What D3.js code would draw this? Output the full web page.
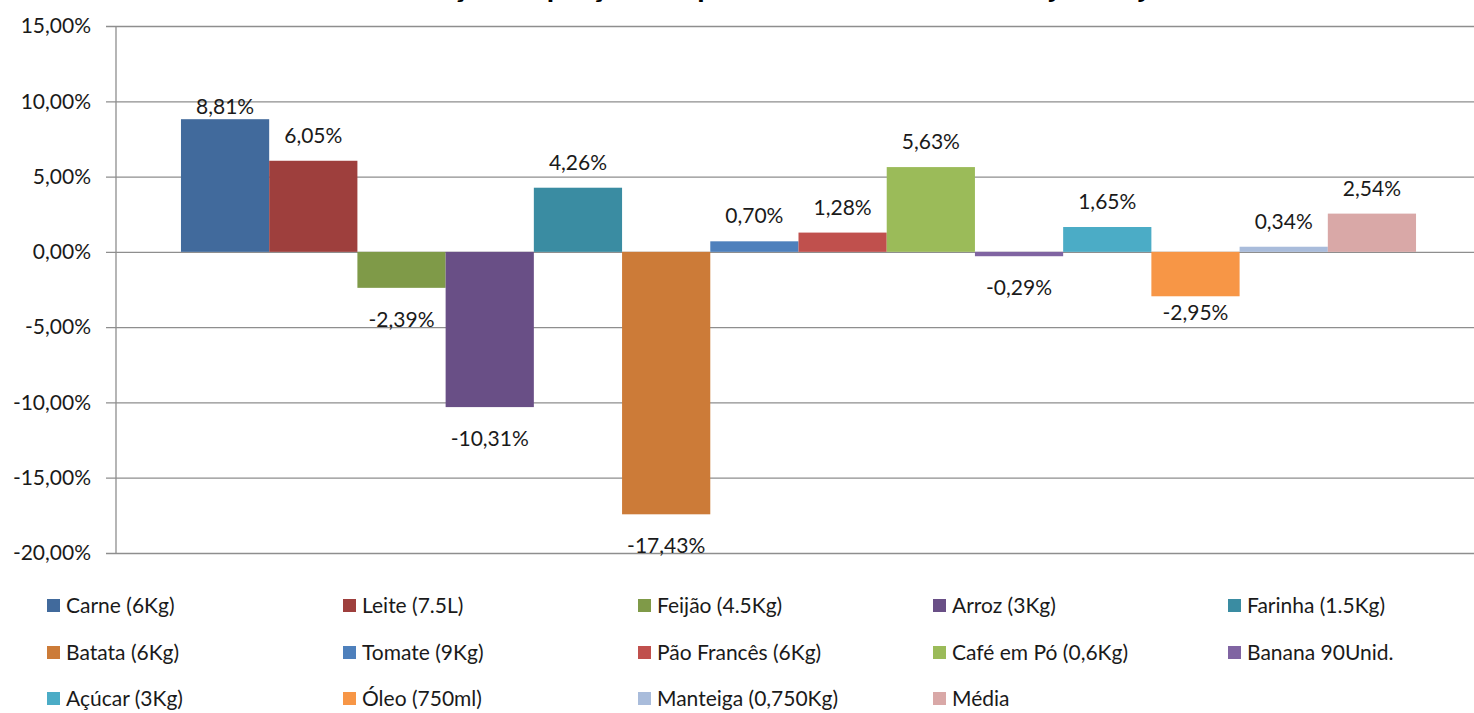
<!DOCTYPE html>
<html>
<head>
<meta charset="utf-8">
<script src="https://cdn.jsdelivr.net/npm/d3@7"></script>
<style>
  html, body { margin: 0; padding: 0; background: #fff; overflow: hidden; }
  svg { display: block; font-family: Lato, "Open Sans", sans-serif; }
</style>
</head>
<body>
<div id="chart"></div>
<script>
// ── Data ──
const items = [
  "Carne (6Kg)", "Leite (7.5L)", "Feijão (4.5Kg)", "Arroz (3Kg)", "Farinha (1.5Kg)",
  "Batata (6Kg)", "Tomate (9Kg)", "Pão Francês (6Kg)", "Café em Pó (0,6Kg)", "Banana 90Unid.",
  "Açúcar (3Kg)", "Óleo (750ml)", "Manteiga (0,750Kg)", "Média"
];
const variation = [8.81, 6.05, -2.39, -10.31, 4.26, -17.43, 0.70, 1.28, 5.63, -0.29, 1.65, -2.95, 0.34, 2.54];
const colors = [
  "#416A9C", "#9E3F3D", "#7F9A48", "#694F86", "#3A8CA2",
  "#CC7B38", "#4E80BC", "#C0504D", "#9BBB59", "#8064A2",
  "#4BACC6", "#F79646", "#A9BCDB", "#D9A8A7"
];
const yTicks = [15, 10, 5, 0, -5, -10, -15, -20];
const title = "Variação de preços dos produtos da cesta básica - junho/julho";

const W = 1474, H = 713;
const MARGIN = { top: 26, right: -7, bottom: 160, left: 116 };
const fmt = v => v.toFixed(2).replace(".", ",") + "%";

const svg = d3.select("#chart").append("svg").attr("width", W).attr("height", H);

// ── Scales ──
const y = d3.scaleLinear().domain([-20, 15]).range([H - MARGIN.bottom, MARGIN.top]);
const group = d3.scaleBand().domain(["cesta"])
  .range([MARGIN.left, W - MARGIN.right])
  .paddingOuter(0.0526).paddingInner(0);
const x = d3.scaleBand().domain(items).range([0, group.bandwidth()]);

// ── Title (cropped off the top in the original, only descenders show) ──
svg.append("text")
  .attr("x", 795).attr("y", -3)
  .attr("text-anchor", "middle")
  .style("font-size", "30px").style("font-weight", "700")
  .style("fill", "#000")
  .text(title);

// ── Gridlines + y axis ──
const yAxis = d3.axisLeft(y).tickValues(yTicks)
  .tickSize(-(W - MARGIN.right - MARGIN.left)).tickSizeOuter(0)
  .tickFormat(d => d.toFixed(2).replace(".", ",") + "%").tickPadding(15);

const gy = svg.append("g").attr("transform", `translate(${MARGIN.left},0)`).call(yAxis);
gy.select(".domain").remove();
gy.selectAll(".tick line").attr("stroke", "#8E8E8E").attr("stroke-width", 1.3)
  .attr("x1", -10);
gy.selectAll(".tick text")
  .style("font-size", "21px").style("fill", "#1a1a1a")
  .style("font-family", "Lato, sans-serif").attr("x", -25);

svg.append("line")
  .attr("x1", MARGIN.left).attr("x2", MARGIN.left)
  .attr("y1", MARGIN.top).attr("y2", y(-20))
  .attr("stroke", "#8E8E8E").attr("stroke-width", 1.3);

// ── Bars ──
const x0 = group("cesta");
svg.append("g").selectAll("rect")
  .data(items)
  .join("rect")
  .attr("x", d => x0 + x(d))
  .attr("width", x.bandwidth())
  .attr("y", (d, i) => y(Math.max(0, variation[i])))
  .attr("height", (d, i) => Math.abs(y(variation[i]) - y(0)))
  .attr("fill", (d, i) => colors[i]);

// ── Data labels ──
// Excel nudged a couple of labels closer to their bars
const nudge = { "Carne (6Kg)": 13, "Óleo (750ml)": -15 };
svg.append("g").selectAll("text")
  .data(items)
  .join("text")
  .attr("x", d => x0 + x(d) + x.bandwidth() / 2)
  .attr("y", (d, i) => {
    const v = variation[i];
    const base = v >= 0 ? y(v) - 18 : y(v) + 39;
    return base + (nudge[d] || 0);
  })
  .attr("text-anchor", "middle")
  .style("font-size", "21px").style("fill", "#1a1a1a")
  .text((d, i) => fmt(variation[i]));

// ── Legend ──
const legend = svg.append("g");
const colX = [47, 343, 638, 933, 1228];
const rowY = [606, 653, 699];
items.forEach((name, i) => {
  const cx = colX[i % 5], cy = rowY[Math.floor(i / 5)];
  legend.append("rect")
    .attr("x", cx).attr("y", cy - 7)
    .attr("width", 13).attr("height", 13)
    .attr("fill", colors[i]);
  legend.append("text")
    .attr("x", cx + 19).attr("y", cy + 7)
    .style("font-size", "21px").style("fill", "#1a1a1a")
    .text(name);
});
</script>
</body>
</html>
